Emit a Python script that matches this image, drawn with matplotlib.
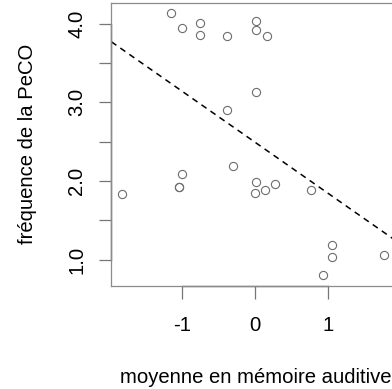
import numpy as np
import matplotlib
matplotlib.use('Agg')
import matplotlib.pyplot as plt

plt.rcParams['font.family'] = ['Liberation Sans', 'DejaVu Sans']

# scores (mean auditory memory) vs PeCO frequency
memoire = [-1.155, -1.00, -0.758, -0.758, -0.392, 0.005, 0.005, 0.156,
           0.010, -0.392, -0.301, -1.008, -1.045, -1.045, -1.83,
           0.010, -0.004, 0.133, 0.270, 0.763,
           1.046, 1.046, 0.932, 1.767]
peco = [4.139, 3.944, 4.013, 3.852, 3.843, 4.030, 3.915, 3.843,
        3.136, 2.904, 2.188, 2.096, 1.927, 1.920, 1.839,
        1.986, 1.852, 1.881, 1.957, 1.884,
        1.190, 1.030, 0.810, 1.059]

# fitted regression line
intercept = 2.491
slope = -0.6485

x_ticks = [-1, 0, 1]
y_ticks = [1.0, 1.5, 2.0, 2.5, 3.0, 3.5, 4.0]
y_labels = ['1.0', '', '2.0', '', '3.0', '', '4.0']

fig = plt.figure(figsize=(3.92, 3.89), dpi=100)
ax = fig.add_axes([0.284, 0.2648, 0.7347, 0.7283])

ax.plot(memoire, peco, linestyle='none', marker='o', ms=5.9,
        mfc='none', mec='#6e6e6e', mew=0.8)

xlim = (-1.973, 1.973)
xs = np.array(xlim)
ax.plot(xs, intercept + slope * xs, color='black', lw=1.1,
        linestyle=(0, (4, 3.2)))

ax.set_xlim(xlim)
ax.set_ylim(0.667, 4.267)

for s in ax.spines.values():
    s.set_color('#8c8c8c')
    s.set_linewidth(0.9)

# axis lines spanning first to last tick
ax.plot([-1, 1], [0.667, 0.667], color='#5a5a5a', lw=1.0, clip_on=False)
ax.plot([-1.973, -1.973], [1.0, 4.0], color='#5a5a5a', lw=1.0, clip_on=False)

ax.set_xticks(x_ticks)
ax.set_xticklabels([str(t) for t in x_ticks])
ax.set_yticks(y_ticks)
ax.set_yticklabels(y_labels, rotation=90, va='center')
ax.tick_params(axis='both', length=9, width=0.9, color='#777777',
               labelsize=14.6)
ax.tick_params(axis='x', pad=12.5)
ax.tick_params(axis='y', pad=9)

ax.set_xlabel('moyenne en mémoire auditive', fontsize=14.6, labelpad=24)
ax.set_ylabel('fréquence de la PeCO', fontsize=14.6, labelpad=22)

plt.savefig('out.png', dpi=100)
plt.close()
